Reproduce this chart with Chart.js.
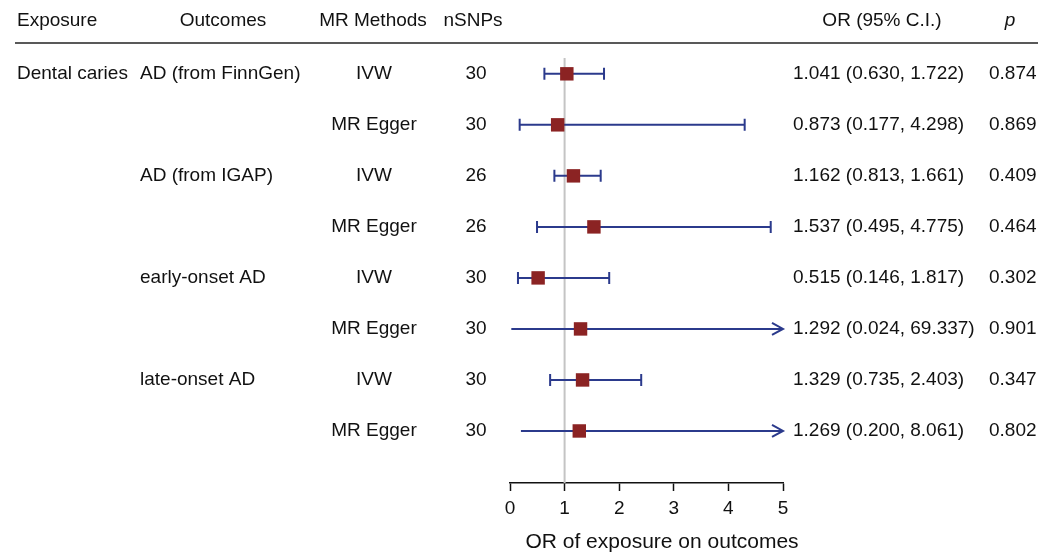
<!DOCTYPE html>
<html>
<head>
<meta charset="utf-8">
<script src="https://cdn.jsdelivr.net/npm/chart.js@4.4.1/dist/chart.umd.min.js"></script>
<style>
  html, body { margin: 0; padding: 0; background: #fff; }
  #wrap { width: 1052px; height: 553px; }
</style>
</head>
<body>
<div id="wrap"><canvas id="forest" width="1052" height="553"></canvas></div>
<script>
// table columns
const exposures = ['Dental caries', '', '', '', '', '', '', ''];
const outcomes = ['AD (from FinnGen)', '', 'AD (from IGAP)', '', 'early-onset AD', '', 'late-onset AD', ''];
const methods = ['IVW', 'MR Egger', 'IVW', 'MR Egger', 'IVW', 'MR Egger', 'IVW', 'MR Egger'];
const nSNPs = [30, 30, 26, 26, 30, 30, 30, 30];

// estimates
const orValues = [1.041, 0.873, 1.162, 1.537, 0.515, 1.292, 1.329, 1.269];
const lowerCI = [0.630, 0.177, 0.813, 0.495, 0.146, 0.024, 0.735, 0.200];
const upperCI = [1.722, 4.298, 1.661, 4.775, 1.817, 69.337, 2.403, 8.061];
const pValues = ['0.874', '0.869', '0.409', '0.464', '0.302', '0.901', '0.347', '0.802'];

const xTicks = [0, 1, 2, 3, 4, 5];
const xMax = 5;

const FONT = '"Liberation Sans", Arial, sans-serif';
const navy = '#2b3a8c';
const darkRed = '#8b2323';

function fmt(v) { return v.toFixed(3); }

const forestPlugin = {
    id: 'forestPlugin',
    beforeDatasetsDraw(chart) {
        const ctx = chart.ctx;
        const x = chart.scales.x;
        const y = chart.scales.y;
        const area = chart.chartArea;

        // null line at OR = 1
        ctx.save();
        ctx.strokeStyle = '#c4c4c4';
        ctx.lineWidth = 2;
        ctx.beginPath();
        ctx.moveTo(x.getPixelForValue(1), area.top);
        ctx.lineTo(x.getPixelForValue(1), area.bottom);
        ctx.stroke();

        // confidence intervals, arrow when the upper limit runs off the axis
        ctx.strokeStyle = navy;
        ctx.lineWidth = 2;
        orValues.forEach((v, i) => {
            const py = y.getPixelForValue(i);
            const clipped = upperCI[i] > xMax;
            const x1 = x.getPixelForValue(lowerCI[i]);
            const x2 = x.getPixelForValue(Math.min(upperCI[i], xMax));
            ctx.beginPath();
            ctx.moveTo(x1, py);
            ctx.lineTo(x2, py);
            ctx.stroke();
            if (clipped) {
                ctx.beginPath();
                ctx.moveTo(x2 - 11, py - 6);
                ctx.lineTo(x2, py);
                ctx.lineTo(x2 - 11, py + 6);
                ctx.stroke();
            } else {
                ctx.beginPath();
                ctx.moveTo(x1, py - 6);
                ctx.lineTo(x1, py + 6);
                ctx.moveTo(x2, py - 6);
                ctx.lineTo(x2, py + 6);
                ctx.stroke();
            }
        });
        ctx.restore();
    },
    afterDraw(chart) {
        const ctx = chart.ctx;
        const y = chart.scales.y;
        ctx.save();
        ctx.fillStyle = '#111';
        ctx.textBaseline = 'middle';
        ctx.font = '19px ' + FONT;

        // header
        const hy = 21;
        ctx.textAlign = 'left';
        ctx.fillText('Exposure', 17, hy);
        ctx.textAlign = 'center';
        ctx.fillText('Outcomes', 223, hy);
        ctx.fillText('MR Methods', 373, hy);
        ctx.fillText('nSNPs', 473, hy);
        ctx.fillText('OR (95% C.I.)', 882, hy);
        ctx.font = 'italic 19px ' + FONT;
        ctx.fillText('p', 1010, hy);

        ctx.strokeStyle = '#222';
        ctx.lineWidth = 1.5;
        ctx.beginPath();
        ctx.moveTo(15, 43);
        ctx.lineTo(1038, 43);
        ctx.stroke();

        // rows
        ctx.font = '19px ' + FONT;
        orValues.forEach((v, i) => {
            const py = y.getPixelForValue(i);
            ctx.textAlign = 'left';
            ctx.fillText(exposures[i], 17, py);
            ctx.fillText(outcomes[i], 140, py);
            ctx.textAlign = 'center';
            ctx.fillText(methods[i], 374, py);
            ctx.fillText(String(nSNPs[i]), 476, py);
            ctx.textAlign = 'left';
            ctx.fillText(fmt(v) + ' (' + fmt(lowerCI[i]) + ', ' + fmt(upperCI[i]) + ')', 793, py);
            ctx.fillText(pValues[i], 989, py);
        });

        // axis title
        ctx.textAlign = 'center';
        ctx.font = '21px ' + FONT;
        ctx.fillText('OR of exposure on outcomes', 662, 542);
        ctx.restore();
    }
};

new Chart(document.getElementById('forest').getContext('2d'), {
    type: 'scatter',
    data: {
        datasets: [{
            data: orValues.map((v, i) => ({ x: v, y: i })),
            pointStyle: 'rect',
            radius: 9.5,
            hoverRadius: 9.5,
            backgroundColor: darkRed,
            borderColor: darkRed,
            borderWidth: 0
        }]
    },
    options: {
        responsive: false,
        animation: false,
        devicePixelRatio: 1,
        layout: {
            padding: { left: 510, right: 269, top: 58, bottom: 30 }
        },
        plugins: {
            legend: { display: false },
            tooltip: { enabled: false }
        },
        scales: {
            x: {
                type: 'linear',
                min: 0,
                max: xMax,
                afterBuildTicks: s => { s.ticks = xTicks.map(v => ({ value: v })); },
                afterFit: s => { s.height = 40; },
                grid: {
                    drawOnChartArea: false,
                    drawTicks: true,
                    tickLength: 8,
                    tickWidth: 1.5,
                    color: '#111'
                },
                border: { display: true, color: '#111', width: 1.5 },
                ticks: {
                    color: '#111',
                    padding: 6,
                    font: { family: FONT, size: 19 }
                }
            },
            y: {
                type: 'linear',
                display: false,
                reverse: true,
                min: -0.31,
                max: 8.02
            }
        }
    },
    plugins: [forestPlugin]
});
</script>
</body>
</html>
